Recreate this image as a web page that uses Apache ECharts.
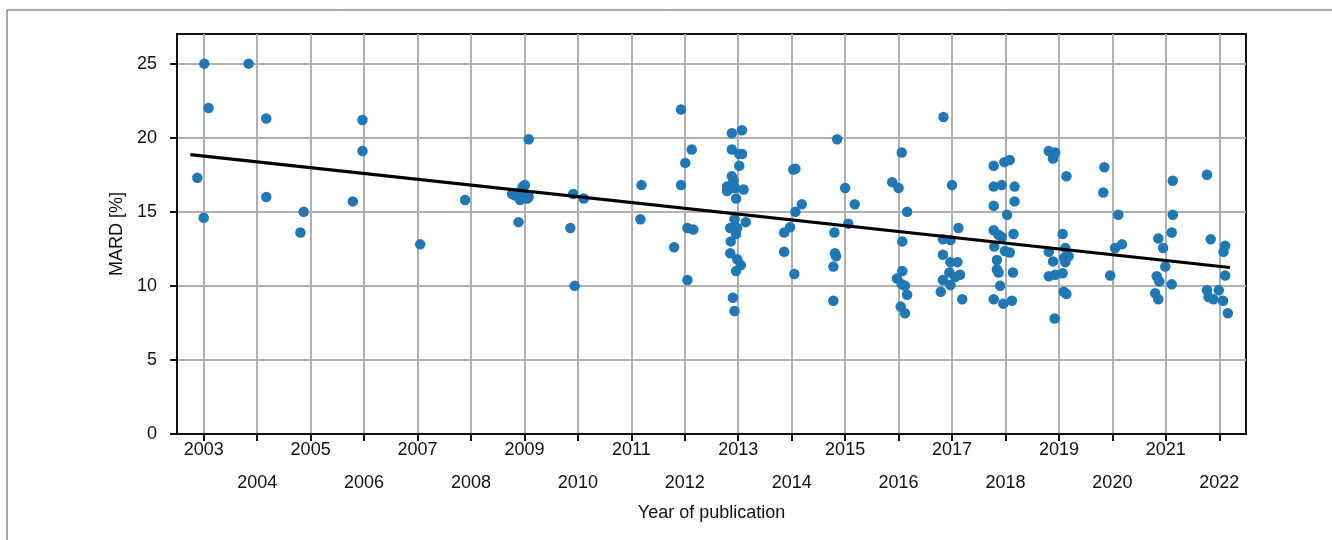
<!DOCTYPE html>
<html>
<head>
<meta charset="utf-8">
<script src="https://cdn.jsdelivr.net/npm/echarts@6/dist/echarts.min.js"></script>
<style>
  html, body { margin: 0; padding: 0; background: #ffffff; }
  #chart { width: 1332px; height: 540px; }
</style>
</head>
<body>
<div id="chart"></div>
<script>
// Publication date (decimal year) and MARD [%] of each study, grouped by year
const pubDate = [
  2002.88, 2003.00, 2003.01, 2003.09,
  2003.84, 2004.17, 2004.17,
  2004.81, 2004.87,
  2005.79, 2005.97, 2005.97,
  2007.05,
  2007.89,
  2008.77, 2008.83, 2008.89, 2008.89, 2008.92, 2008.95, 2008.97, 2009.01, 2009.05, 2009.08, 2009.08,
  2009.86, 2009.91, 2009.94, 2010.11,
  2011.17, 2011.19,
  2011.80, 2011.93, 2011.93, 2012.01, 2012.05, 2012.05, 2012.13, 2012.16,
  2012.88, 2013.07, 2012.88, 2013.02, 2013.07, 2013.02, 2012.88, 2012.91, 2012.79, 2012.82,
  2012.94, 2013.10, 2012.96, 2012.79, 2012.88, 2012.93, 2013.14, 2012.85, 2012.98, 2012.96,
  2012.86, 2012.85, 2012.98, 2013.05, 2012.96, 2012.90, 2012.93,
  2014.03, 2014.07, 2014.19, 2014.07, 2013.97, 2013.86, 2013.86, 2014.05,
  2014.85, 2015.00, 2015.18, 2015.06, 2014.80, 2014.81, 2014.83, 2014.78, 2014.78,
  2015.88, 2016.00, 2016.06, 2016.16, 2016.07, 2016.07, 2015.97, 2016.06, 2016.12, 2016.16, 2016.04, 2016.12,
  2016.84, 2017.00, 2017.12, 2016.83, 2016.97, 2016.83, 2016.97, 2017.10, 2016.95, 2017.15,
  2017.06, 2016.83, 2016.97, 2016.79, 2017.19,
  2017.78, 2017.98, 2018.08, 2017.78, 2017.93, 2018.17, 2018.17, 2017.78, 2018.03, 2017.78,
  2017.87, 2017.93, 2018.15, 2017.79, 2017.99, 2018.08, 2017.84, 2017.84, 2017.87, 2018.14,
  2017.90, 2017.78, 2017.96, 2018.12,
  2018.81, 2018.89, 2018.93, 2019.14, 2019.07, 2018.81, 2019.12, 2019.18, 2019.10, 2018.89,
  2019.12, 2019.07, 2018.81, 2018.93, 2019.09, 2019.14, 2018.92,
  2019.85, 2019.83, 2020.11, 2020.05, 2020.18, 2019.96,
  2021.13, 2021.13, 2021.11, 2020.86, 2020.95, 2020.99, 2020.83, 2020.88, 2021.11, 2020.80, 2020.86,
  2021.77, 2021.84, 2022.11, 2022.08, 2022.11, 2021.77, 2021.80, 2021.99, 2021.89, 2022.07, 2022.16
];

const mard = [
  17.3, 14.6, 25.0, 22.0,
  25.0, 21.3, 16.0,
  13.6, 15.0,
  15.7, 21.2, 19.1,
  12.8,
  15.8,
  16.2, 16.1, 16.3, 14.3, 15.8, 16.4, 16.7, 16.8, 15.9, 16.0, 19.9,
  13.9, 16.2, 10.0, 15.9,
  14.5, 16.8,
  12.6, 21.9, 16.8, 18.3, 13.9, 10.4, 19.2, 13.8,
  20.3, 20.5, 19.2, 18.9, 18.9, 18.1, 17.4, 17.1, 16.7, 16.5,
  16.6, 16.5, 15.9, 16.4, 16.7, 14.5, 14.3, 13.9, 13.9, 13.5,
  13.0, 12.2, 11.8, 11.4, 11.0, 9.2, 8.3,
  17.85, 17.9, 15.5, 15.0, 13.95, 13.6, 12.3, 10.8,
  19.9, 16.6, 15.5, 14.2, 13.6, 12.2, 12.0, 11.3, 9.0,
  17.0, 16.6, 19.0, 15.0, 13.0, 11.0, 10.5, 10.1, 10.0, 9.4, 8.6, 8.15,
  21.4, 16.8, 13.9, 13.15, 13.1, 12.1, 11.6, 11.6, 10.9, 10.75,
  10.6, 10.4, 10.05, 9.6, 9.1,
  18.1, 18.35, 18.5, 16.7, 16.8, 16.7, 15.7, 15.4, 14.8, 13.75,
  13.45, 13.3, 13.5, 12.65, 12.35, 12.25, 11.75, 11.1, 10.9, 10.9,
  10.0, 9.1, 8.8, 9.0,
  19.1, 18.6, 19.0, 17.4, 13.5, 12.3, 12.55, 12.0, 11.9, 11.65,
  11.6, 10.85, 10.65, 10.75, 9.6, 9.45, 7.8,
  18.0, 16.3, 14.8, 12.55, 12.8, 10.7,
  17.1, 14.8, 13.6, 13.2, 12.55, 11.3, 10.65, 10.3, 10.1, 9.5, 9.1,
  17.5, 13.15, 12.7, 12.3, 10.7, 9.7, 9.25, 9.7, 9.1, 9.0, 8.15
];

// Fitted linear trend, end points
const trendDate = [2002.75, 2022.2];
const trendMard = [18.86, 11.24];

// Axis ticks
const yearTicks = [2003, 2004, 2005, 2006, 2007, 2008, 2009, 2010, 2011, 2012,
                   2013, 2014, 2015, 2016, 2017, 2018, 2019, 2020, 2021, 2022];
const mardTicks = [0, 5, 10, 15, 20, 25];

const FONT = 'Liberation Sans, Arial, sans-serif';
const INK = '#111111';

const points = pubDate.map((d, i) => [d, mard[i]]);
const trend = trendDate.map((d, i) => [d, trendMard[i]]);

const chart = echarts.init(document.getElementById('chart'), null, { renderer: 'canvas' });

chart.setOption({
  animation: false,
  backgroundColor: '#ffffff',
  textStyle: { fontFamily: FONT },
  graphic: [
    { type: 'line', shape: { x1: 7, y1: 10, x2: 1332, y2: 10 }, style: { stroke: '#555', lineWidth: 1 }, silent: true },
    { type: 'line', shape: { x1: 7, y1: 10, x2: 7, y2: 540 }, style: { stroke: '#555', lineWidth: 1 }, silent: true }
  ],
  grid: {
    left: 177, right: 86, top: 34, bottom: 106,
    show: true, borderColor: INK, borderWidth: 2, backgroundColor: 'transparent'
  },
  xAxis: {
    type: 'value',
    min: 2002.5,
    max: 2022.5,
    name: 'Year of publication',
    nameLocation: 'middle',
    nameGap: 68,
    nameTextStyle: { fontSize: 18, color: INK, fontFamily: FONT },
    axisLine: { show: true, onZero: false, lineStyle: { color: INK, width: 2 } },
    axisTick: { show: true, length: 7, customValues: yearTicks, lineStyle: { color: INK, width: 2 } },
    axisLabel: {
      customValues: yearTicks,
      formatter: v => (v % 2 === 0 ? '\n' : '') + v,
      lineHeight: 33,
      margin: -0.5,
      fontSize: 18,
      color: INK,
      fontFamily: FONT
    },
    splitLine: { show: true, lineStyle: { color: '#b0b0b0', width: 2 } }
  },
  yAxis: {
    type: 'value',
    min: 0,
    max: 27,
    name: 'MARD [%]',
    nameLocation: 'middle',
    nameGap: 50,
    nameTextStyle: { fontSize: 18, color: INK, fontFamily: FONT },
    axisLine: { show: true, lineStyle: { color: INK, width: 2 } },
    axisTick: { show: true, length: 7, customValues: mardTicks, lineStyle: { color: INK, width: 2 } },
    axisLabel: { customValues: mardTicks, margin: 20, fontSize: 18, color: INK, fontFamily: FONT },
    splitLine: { show: true, lineStyle: { color: '#b0b0b0', width: 2 } }
  },
  series: [
    {
      type: 'scatter',
      data: points,
      symbol: 'circle',
      symbolSize: 10.5,
      itemStyle: { color: '#1f77b4', opacity: 1 },
      z: 2,
      silent: true
    },
    {
      type: 'line',
      data: trend,
      symbol: 'none',
      lineStyle: { color: '#000000', width: 3.2 },
      z: 3,
      silent: true
    }
  ]
});
</script>
</body>
</html>
